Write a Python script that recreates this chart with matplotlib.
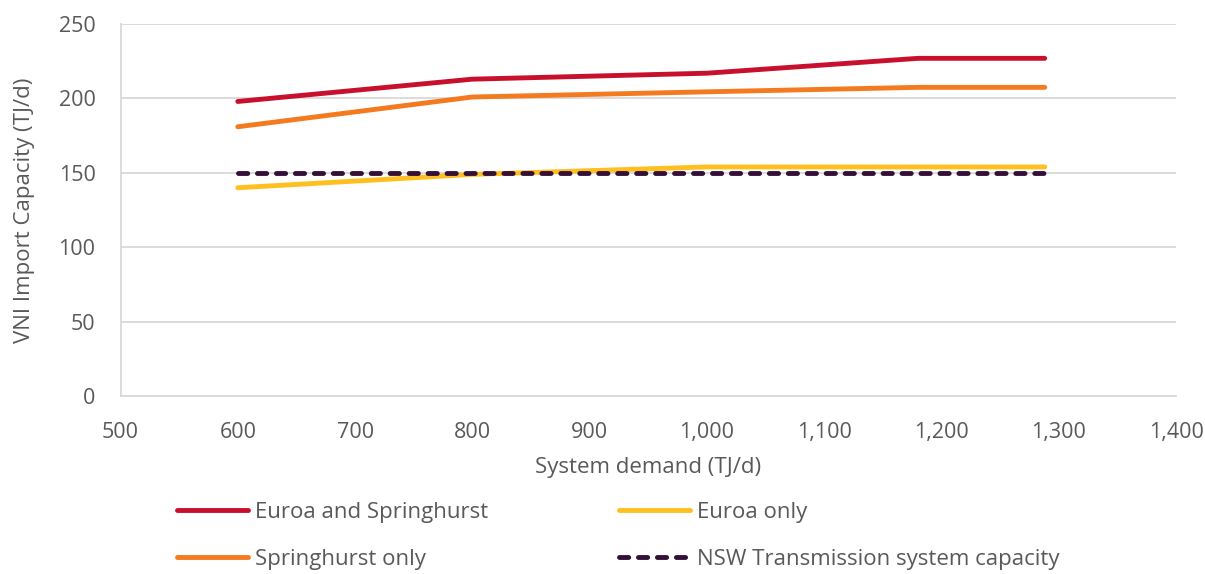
import matplotlib
matplotlib.use("Agg")
import matplotlib.pyplot as plt

# System demand (TJ/d) and VNI import capacity (TJ/d) per scenario
demand = [600, 800, 1000, 1180, 1288]
euroa_and_springhurst = [198, 213, 217, 227, 227]
euroa_only = [140, 149, 154, 154, 154]
springhurst_only = [181, 201, 204.5, 207.5, 207.5]
nsw_capacity = [150, 150, 150, 150, 150]

x_ticks = [500, 600, 700, 800, 900, 1000, 1100, 1200, 1300, 1400]
y_ticks = [0, 50, 100, 150, 200, 250]

plt.rcParams['font.family'] = ['Open Sans', 'DejaVu Sans']
text_color = '#595959'
grid_color = '#D9D9D9'

fig = plt.figure(figsize=(12.05, 5.74), dpi=100)
ax = fig.add_axes([0.100, 0.310, 0.876, 0.648])

lw = 3.5
ax.plot(demand, euroa_and_springhurst, color='#C8102E', lw=lw,
        solid_capstyle='round', label='Euroa and Springhurst', zorder=3)
ax.plot(demand, springhurst_only, color='#F47A20', lw=lw,
        solid_capstyle='round', label='Springhurst only', zorder=3)
ax.plot(demand, euroa_only, color='#FFBF1F', lw=lw,
        solid_capstyle='round', label='Euroa only', zorder=3)
ax.plot(demand, nsw_capacity, color='#351036', lw=lw,
        dashes=(1.9, 2.0), dash_capstyle='round',
        label='NSW Transmission system capacity', zorder=4)

ax.set_xlim(500, 1400)
ax.set_ylim(0, 250)
ax.set_xticks(x_ticks)
ax.set_xticklabels([f'{v:,}' for v in x_ticks])
ax.set_yticks(y_ticks)

ax.grid(axis='y', color=grid_color, lw=1.3)
ax.set_axisbelow(True)
for side in ('top', 'right'):
    ax.spines[side].set_visible(False)
for side in ('left', 'bottom'):
    ax.spines[side].set_color(grid_color)
    ax.spines[side].set_linewidth(1.3)

ax.tick_params(length=0, labelsize=15.5, labelcolor=text_color)
ax.tick_params(axis='x', pad=19)
ax.tick_params(axis='y', pad=18)
ax.set_xlabel('System demand (TJ/d)', fontsize=16, color=text_color)
ax.set_ylabel('VNI Import Capacity (TJ/d)', fontsize=16, color=text_color)
ax.xaxis.set_label_coords(0.5, -0.164)
ax.yaxis.set_label_coords(-0.081, 0.5)

handles, labels = ax.get_legend_handles_labels()
leg = fig.legend(handles, labels,
                 loc='upper left', bbox_to_anchor=(0.147, 0.125), ncol=2,
                 frameon=False, fontsize=16, handlelength=3.2, handletextpad=0.3,
                 columnspacing=5.9, labelspacing=1.17, borderaxespad=0,
                 borderpad=0)
for t in leg.get_texts():
    t.set_color(text_color)

fig.savefig('out.png', dpi=100, facecolor='white')
